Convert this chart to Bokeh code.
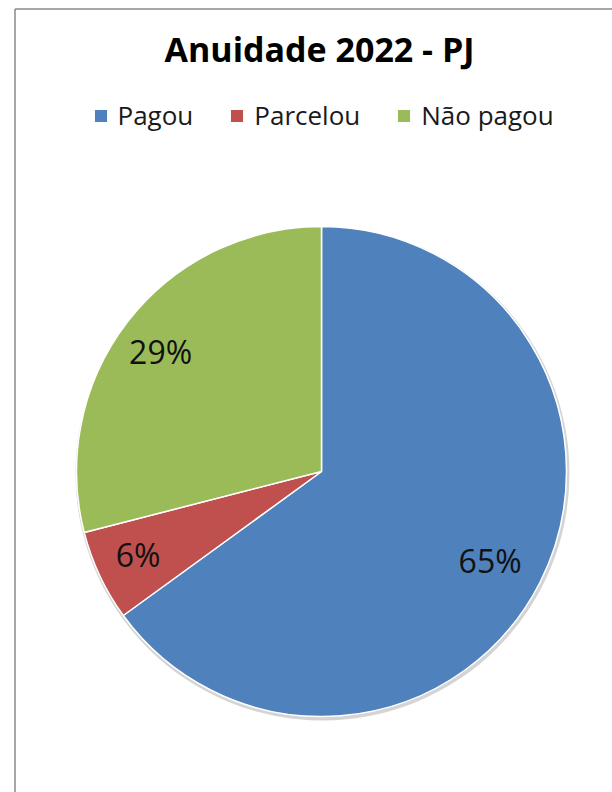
import numpy as np
from bokeh.plotting import figure
from bokeh.models import ColumnDataSource, Range1d, Label, Legend, LegendItem
from bokeh.core.properties import value
from bokeh.embed import file_html
from bokeh.resources import INLINE

# ---- data ----
title_text = "Anuidade 2022 - PJ"
categories = ["Pagou", "Parcelou", "Não pagou"]
percents = [65, 6, 29]
colors = ["#4F81BD", "#C0504D", "#9BBB59"]

# ---- layout (pixels) ----
W, H = 612, 792
cx, cy = 321, H - 471
R = 245
label_frac = 0.80

fracs = np.array(percents, dtype=float) / sum(percents)
ends_cum = np.cumsum(fracs)
starts_cum = ends_cum - fracs
# clockwise from 12 o'clock
start_ang = np.pi / 2 - starts_cum * 2 * np.pi
end_ang = np.pi / 2 - ends_cum * 2 * np.pi
mid_ang = (start_ang + end_ang) / 2

src = ColumnDataSource(dict(
    cat=categories,
    start=start_ang,
    end=end_ang,
    color=colors,
    lx=cx + label_frac * R * np.cos(mid_ang),
    ly=cy + label_frac * R * np.sin(mid_ang),
    txt=[f"{v}%" for v in percents],
))

p = figure(width=W, height=H, output_backend="svg", toolbar_location=None,
           x_range=Range1d(0, W), y_range=Range1d(0, H), min_border=0)
p.axis.visible = False
p.grid.visible = False
p.outline_line_color = None
p.background_fill_color = "white"
p.border_fill_color = "white"

# chart-area frame (only left and top visible in the crop)
p.segment(x0=[14.5, 14.5], y0=[H - 8.5, H - 8.5], x1=[14.5, W + 5], y1=[-5, H - 8.5],
          line_color="#8a8a8a", line_width=1.5)

# soft shadow ring
p.circle(x=[cx + 1], y=[cy - 2], radius=R + 2, fill_color="#d4d4d4", line_color=None)

wr = p.wedge(x=cx, y=cy, radius=R, start_angle="start", end_angle="end",
             direction="clock", fill_color="color", line_color="white",
             line_width=1.5, source=src)

p.text(x="lx", y="ly", text="txt", source=src, text_align="center",
       text_baseline="middle", text_font=value("Open Sans"),
       text_font_size="32px", text_color="#111111", x_offset=-6)

p.add_layout(Label(x=W / 2 + 13, y=H - 48, text=title_text, text_align="center",
                   text_baseline="alphabetic", text_font="Open Sans",
                   text_font_style="bold", text_font_size="34px",
                   text_color="#000000"))

legend = Legend(items=[LegendItem(label=c, renderers=[wr], index=i)
                       for i, c in enumerate(categories)],
                orientation="horizontal", location=(91.5, H - 133),
                glyph_width=17, glyph_height=17, label_standoff=9,
                spacing=35, padding=0, margin=0,
                label_text_font="Open Sans", label_text_font_size="26px",
                label_text_color="#1a1a1a", border_line_color=None,
                background_fill_alpha=0)
p.add_layout(legend)

open("out.html", "w").write(file_html(p, INLINE))
